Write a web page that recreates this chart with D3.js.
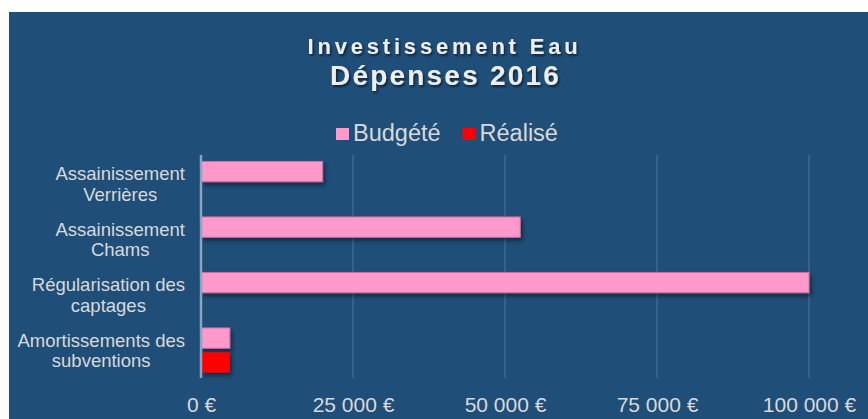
<!DOCTYPE html>
<html>
<head>
<meta charset="utf-8">
<script src="https://cdn.jsdelivr.net/npm/d3@7"></script>
<style>
  body { margin: 0; background: #fff; }
  svg { display: block; font-family: "Liberation Sans", Arial, sans-serif; }
</style>
</head>
<body>
<div id="chart"></div>
<script>
// data
var categories = ["Assainissement Verrières", "Assainissement Chams", "Régularisation des captages", "Amortissements des subventions"];
var labelLines = [["Assainissement", "Verrières"], ["Assainissement", "Chams"], ["Régularisation des", "captages"], ["Amortissements des", "subventions"]];
var series = ["Budgété", "Réalisé"];
var budgete = [20000, 52500, 100000, 4750];
var realise = [0, 0, 0, 4750];
var ticks = [0, 25000, 50000, 75000, 100000];
var colors = ["#ff99cc", "#ff0000"];

var width = 868, height = 419,
  margin = { top: 156, right: 59, bottom: 41, left: 201 };

var svg = d3.select("#chart").append("svg")
  .attr("width", width)
  .attr("height", height);

var defs = svg.append("defs");
defs.append("filter").attr("id", "barShadow")
  .attr("x", "-10%").attr("y", "-30%").attr("width", "130%").attr("height", "180%")
  .append("feDropShadow")
  .attr("dx", 2).attr("dy", 3).attr("stdDeviation", 2)
  .attr("flood-color", "#000").attr("flood-opacity", 0.45);
defs.append("filter").attr("id", "textShadow")
  .attr("x", "-10%").attr("y", "-30%").attr("width", "130%").attr("height", "180%")
  .append("feDropShadow")
  .attr("dx", 1.5).attr("dy", 2).attr("stdDeviation", 1.2)
  .attr("flood-color", "#000").attr("flood-opacity", 0.55);

svg.append("rect")
  .attr("x", 9).attr("y", 12)
  .attr("width", width - 9).attr("height", height - 12)
  .attr("fill", "#1f4e79");

// titles
svg.append("text")
  .attr("x", 444.5).attr("y", 53.5)
  .attr("text-anchor", "middle")
  .attr("font-size", 22).attr("font-weight", "bold")
  .attr("letter-spacing", 3.8)
  .attr("fill", "#eeeeee")
  .attr("filter", "url(#textShadow)")
  .text("Investissement Eau");

svg.append("text")
  .attr("x", 445.5).attr("y", 85)
  .attr("text-anchor", "middle")
  .attr("font-size", 28).attr("font-weight", "bold")
  .attr("letter-spacing", 2.2)
  .attr("fill", "#eeeeee")
  .attr("filter", "url(#textShadow)")
  .text("Dépenses 2016");

// legend
var legend = svg.append("g").attr("class", "legend");
var lx = 336;
series.forEach(function (s, i) {
  legend.append("rect")
    .attr("x", lx).attr("y", 128)
    .attr("width", 13).attr("height", 12)
    .attr("fill", colors[i]);
  var t = legend.append("text")
    .attr("x", lx + 17).attr("y", 141)
    .attr("font-size", 23.5)
    .attr("fill", "#d9d9d9")
    .text(s);
  lx += 17 + t.node().getComputedTextLength() + 22;
});

// scales
var x = d3.scaleLinear()
  .domain([0, 100000])
  .range([margin.left, width - margin.right]);

var y0 = d3.scaleBand()
  .domain(categories)
  .range([margin.top, height - margin.bottom]);

var y1 = d3.scaleBand()
  .domain(series)
  .range([0, y0.bandwidth()])
  .paddingInner(0.165)
  .paddingOuter(0.224);

// gridlines
svg.append("g").selectAll("line")
  .data(ticks.slice(1)).enter()
  .append("line")
  .attr("x1", function (d) { return x(d); })
  .attr("x2", function (d) { return x(d); })
  .attr("y1", margin.top - 1)
  .attr("y2", height - margin.bottom)
  .attr("stroke", "#3e6a93")
  .attr("stroke-width", 1.5);

// x axis labels
var xAxis = d3.axisBottom(x)
  .tickValues(ticks)
  .tickSize(0)
  .tickFormat(function (d) { return d3.format(",")(d).replace(/,/g, " ") + " €"; });

var gx = svg.append("g")
  .attr("transform", "translate(0," + (height - margin.bottom) + ")")
  .call(xAxis);
gx.select(".domain").remove();
gx.selectAll("text")
  .attr("y", 0).attr("dy", 0)
  .attr("transform", "translate(0,34)")
  .attr("font-family", "Liberation Sans, Arial, sans-serif")
  .attr("font-size", 21)
  .attr("fill", "#d9d9d9");

// bars
var rows = categories.map(function (c, i) {
  return [
    { cat: c, series: series[0], value: budgete[i], color: colors[0] },
    { cat: c, series: series[1], value: realise[i], color: colors[1] }
  ];
});

var groups = svg.append("g").selectAll("g")
  .data(rows).enter()
  .append("g")
  .attr("transform", function (d) { return "translate(0," + y0(d[0].cat) + ")"; });

groups.selectAll("rect")
  .data(function (d) { return d.filter(function (b) { return b.value > 0; }); }).enter()
  .append("rect")
  .attr("x", x(0))
  .attr("y", function (d) { return y1(d.series); })
  .attr("width", function (d) { return x(d.value) - x(0); })
  .attr("height", y1.bandwidth())
  .attr("fill", function (d) { return d.color; })
  .attr("stroke", function (d) { return d.series === series[0] ? "#cf6f9f" : "none"; })
  .attr("stroke-width", 1)
  .attr("filter", "url(#barShadow)");

// y axis line
svg.append("line")
  .attr("x1", x(0)).attr("x2", x(0))
  .attr("y1", margin.top - 1).attr("y2", height - margin.bottom)
  .attr("stroke", "#8ba3bd")
  .attr("stroke-width", 2.5);

// category labels, lines centred, block right-aligned
var labels = svg.append("g").selectAll("text")
  .data(categories).enter()
  .append("text")
  .attr("font-size", 18.5)
  .attr("fill", "#d9d9d9")
  .attr("text-anchor", "middle");

labels.each(function (c, i) {
  var el = d3.select(this);
  var cy = y0(c) + y0.bandwidth() / 2;
  labelLines[i].forEach(function (line, j) {
    el.append("tspan")
      .attr("y", cy - 3.5 + j * 20.7)
      .text(line);
  });
  var w = d3.max(el.selectAll("tspan").nodes(), function (n) { return n.getComputedTextLength(); });
  el.selectAll("tspan").attr("x", 185 - w / 2);
});
</script>
</body>
</html>
